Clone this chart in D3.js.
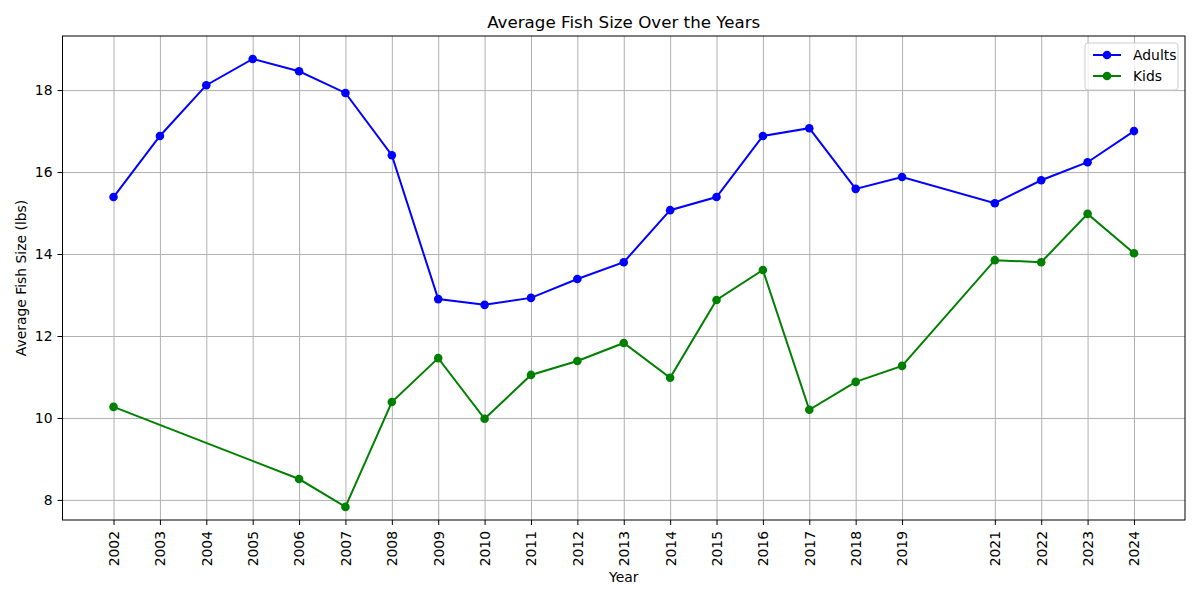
<!DOCTYPE html>
<html>
<head>
<meta charset="utf-8">
<script src="https://cdn.jsdelivr.net/npm/d3@7/dist/d3.min.js"></script>
<style>
  body { margin: 0; background: #fff; }
  svg text { font-family: "DejaVu Sans", sans-serif; }
  .grid line { stroke: #b0b0b0; stroke-width: 1; }
  .grid .domain { display: none; }
</style>
</head>
<body>
<div id="chart"></div>
<script>
// years shown on the x axis (no 2020)
const years = [2002, 2003, 2004, 2005, 2006, 2007, 2008, 2009, 2010, 2011, 2012,
               2013, 2014, 2015, 2016, 2017, 2018, 2019, 2021, 2022, 2023, 2024]
const adults = [15.39, 16.88, 18.12, 18.76, 18.46, 17.93, 16.41, 12.90, 12.76, 12.93, 13.39,
                13.80, 15.07, 15.39, 16.88, 17.07, 15.59, 15.88, 15.24, 15.80, 16.24, 17.00]
const kidsYears = [2002, 2006, 2007, 2008, 2009, 2010, 2011, 2012, 2013, 2014,
                   2015, 2016, 2017, 2018, 2019, 2021, 2022, 2023, 2024]
const kids = [10.27, 8.51, 7.83, 10.39, 11.46, 9.98, 11.05, 11.39, 11.83, 10.98,
              12.88, 13.61, 10.20, 10.88, 11.27, 13.85, 13.80, 14.98, 14.02]
const yTicks = [8, 10, 12, 14, 16, 18]

const W = 1200, H = 600
const m = {left: 62.5, right: 15, top: 36, bottom: 80}
const w = W - m.left - m.right, h = H - m.top - m.bottom

const xScale = d3.scaleLinear().domain([2002 - 1.1, 2024 + 1.1]).range([0, w])
const yScale = d3.scaleLinear().domain([7.51, 19.32]).range([h, 0])

const svg = d3.select("#chart").append("svg")
    .attr("width", W)
    .attr("height", H)

const g = svg.append("g").attr("transform", `translate(${m.left},${m.top})`)

// grid
g.append("g").attr("class", "grid")
    .attr("transform", `translate(0,${h})`)
    .call(d3.axisBottom(xScale).tickValues(years).tickSize(-h).tickFormat(""))
g.append("g").attr("class", "grid")
    .call(d3.axisLeft(yScale).tickValues(yTicks).tickSize(-w).tickFormat(""))

// axes
const xAxis = g.append("g")
    .attr("transform", `translate(0,${h})`)
    .call(d3.axisBottom(xScale).tickValues(years).tickFormat(d3.format("d")).tickSize(5).tickPadding(5))
xAxis.select(".domain").remove()
xAxis.attr("font-family", null).attr("font-size", 13.9)
xAxis.selectAll("text")
    .style("text-anchor", "end")
    .attr("fill", "#000")
    .attr("x", -11)
    .attr("y", 0)
    .attr("dy", "0.35em")
    .attr("transform", "rotate(-90)")

const yAxis = g.append("g")
    .call(d3.axisLeft(yScale).tickValues(yTicks).tickFormat(d3.format("d")).tickSize(5).tickPadding(5))
yAxis.select(".domain").remove()
yAxis.attr("font-family", null).attr("font-size", 13.9)
yAxis.selectAll("text").attr("fill", "#000")

g.append("rect")
    .attr("width", w).attr("height", h)
    .attr("fill", "none").attr("stroke", "#000").attr("stroke-width", 1)

// series
const series = [
    {name: "Adults", color: "blue", xs: years, ys: adults},
    {name: "Kids", color: "green", xs: kidsYears, ys: kids}
]
const line = d3.line().x(d => xScale(d[0])).y(d => yScale(d[1]))

series.forEach(function(s) {
    const pts = s.xs.map((x, i) => [x, s.ys[i]])
    g.append("path")
        .datum(pts)
        .attr("d", line)
        .attr("fill", "none")
        .attr("stroke", s.color)
        .attr("stroke-width", 2)
    g.selectAll(null).data(pts).enter()
        .append("circle")
        .attr("cx", d => xScale(d[0]))
        .attr("cy", d => yScale(d[1]))
        .attr("r", 4.3)
        .attr("fill", s.color)
})

// titles
svg.append("text")
    .attr("x", m.left + w / 2).attr("y", 28)
    .attr("text-anchor", "middle")
    .attr("font-size", 16.7)
    .text("Average Fish Size Over the Years")
svg.append("text")
    .attr("x", m.left + w / 2).attr("y", 582)
    .attr("text-anchor", "middle")
    .attr("font-size", 13.9)
    .text("Year")
svg.append("text")
    .attr("transform", `translate(26,${m.top + h / 2}) rotate(-90)`)
    .attr("text-anchor", "middle")
    .attr("font-size", 13.9)
    .text("Average Fish Size (lbs)")

// legend
const lg = svg.append("g").attr("transform", `translate(1085,43)`)
lg.append("rect")
    .attr("width", 93).attr("height", 47).attr("rx", 3)
    .attr("fill", "#fff").attr("fill-opacity", 0.8)
    .attr("stroke", "#ccc")
series.forEach(function(s, i) {
    const yy = 12 + i * 21
    lg.append("line")
        .attr("x1", 8).attr("x2", 36).attr("y1", yy).attr("y2", yy)
        .attr("stroke", s.color).attr("stroke-width", 2)
    lg.append("circle").attr("cx", 22).attr("cy", yy).attr("r", 4.3).attr("fill", s.color)
    lg.append("text").attr("x", 48).attr("y", yy + 5)
        .attr("font-size", 13.9).text(s.name)
})
</script>
</body>
</html>
